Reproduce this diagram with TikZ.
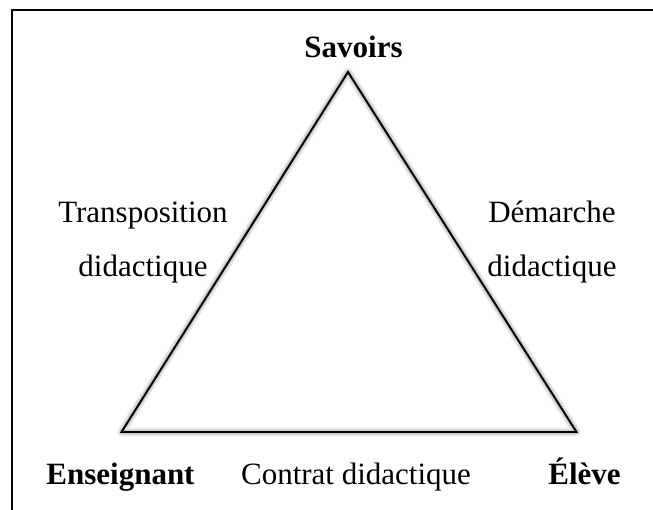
\documentclass[tikz,border=0pt]{standalone}
\usepackage{fontspec}
\setmainfont{Liberation Serif}
\begin{document}
\begin{tikzpicture}[x=1pt,y=-1pt,
  frameline/.style={line width=1.7pt,black},
  edge/.style={line width=1.9pt,black,line join=miter},
  shade/.style={line width=#1,black,opacity=0.06,line join=round},
  label/.style={inner sep=0pt,anchor=base,font=\fontsize{31}{54}\selectfont,align=center},
  pole/.style={label,font=\fontsize{31}{54}\selectfont\bfseries}]
  \useasboundingbox (0,0) rectangle (653,510);
  % open frame: only top and left sides are visible
  \coordinate (fbl) at (11.8,512);
  \coordinate (ftl) at (11.8,10.3);
  \coordinate (ftr) at (655,10.3);
  \draw[frameline] (fbl) -- (ftl) -- (ftr);
  % corners of the didactic triangle
  \coordinate (S) at (348,72);
  \coordinate (E) at (121.5,432);
  \coordinate (L) at (576.5,432);
  % soft shadow under the triangle
  \begin{scope}[shift={(1.5,4)}]
    \foreach \w in {9pt,7pt,5pt,3.5pt,2pt}
      \draw[shade=\w] (S) -- (E) -- (L) -- cycle;
  \end{scope}
  \draw[edge] (S) -- (E) -- (L) -- cycle;
  % poles
  \node[pole] (savoirs) at (353.5,58) {Savoirs};
  \node[pole] (enseignant) at (120.5,484) {Enseignant};
  \node[pole] (eleve) at (584.5,484) {Élève};
  % relations (base anchor sits on the last line)
  \node[label] (transpo) at (143,277) {Transposition\\didactique};
  \node[label] (demarche) at (552,277) {Démarche\\didactique};
  \node[label] (contrat) at (356,484) {Contrat didactique};
\end{tikzpicture}
\end{document}
